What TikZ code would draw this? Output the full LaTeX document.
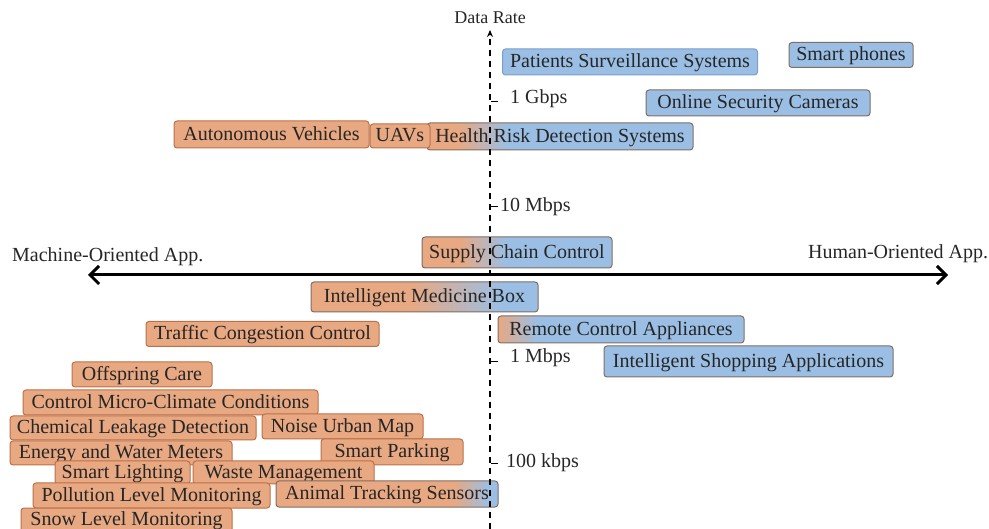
\documentclass[tikz,border=0pt]{standalone}
\usepackage{fontspec}
\setmainfont{Liberation Serif}
\usetikzlibrary{arrows.meta}
\definecolor{orfill}{RGB}{232,168,130}
\definecolor{blfill}{RGB}{155,191,228}
\definecolor{ordraw}{RGB}{186,112,72}
\definecolor{bldraw}{RGB}{128,110,100}
\definecolor{bllight}{RGB}{120,158,205}
\pgfdeclarehorizontalshading{shHealth}{100bp}{color(0bp)=(orfill); color(31bp)=(orfill); color(40bp)=(blfill); color(100bp)=(blfill)}
\pgfdeclarehorizontalshading{shSupply}{100bp}{color(0bp)=(orfill); color(35bp)=(orfill); color(47bp)=(blfill); color(100bp)=(blfill)}
\pgfdeclarehorizontalshading{shMedicine}{100bp}{color(0bp)=(orfill); color(47bp)=(orfill); color(67bp)=(blfill); color(100bp)=(blfill)}
\pgfdeclarehorizontalshading{shRemote}{100bp}{color(0bp)=(orfill); color(25bp)=(orfill); color(33bp)=(blfill); color(100bp)=(blfill)}
\pgfdeclarehorizontalshading{shAnimal}{100bp}{color(0bp)=(orfill); color(65bp)=(orfill); color(73bp)=(blfill); color(100bp)=(blfill)}
\tikzset{
  appbox/.style={rounded corners=3pt, line width=1pt, inner sep=0pt,
    text height=15pt, text depth=3.5pt,
    font=\fontsize{20}{22}\selectfont, text=black!85},
  obox/.style={appbox, draw=ordraw, fill=orfill},
  bbox/.style={appbox, draw=bldraw, fill=blfill},
  gbox/.style={appbox, draw=bldraw},
  lbl/.style={font=\fontsize{20}{22}\selectfont, inner sep=0pt, text=black!85},
  tickmark/.style={line width=1pt}
}
\begin{document}
\begin{tikzpicture}[x=1pt,y=-1pt]
\useasboundingbox (0,0) rectangle (989,529);
% human-oriented (blue)
\node[bbox, draw=bllight, minimum width=255, minimum height=26] (pss) at (630,62) {Patients Surveillance Systems};
\node[bbox, minimum width=124, minimum height=25] (sp) at (851,55) {Smart phones};
\node[bbox, minimum width=224, minimum height=26] (osc) at (758,103) {Online Security Cameras};
\node[bbox, minimum width=289, minimum height=31] (isa) at (748.5,361.5) {Intelligent Shopping Applications};
% mixed
\node[gbox, shading=shHealth, minimum width=266, minimum height=27] (hrd) at (560,136.5) {Health Risk Detection Systems};
\node[obox, minimum width=195, minimum height=27] (av) at (271.5,134.5) {Autonomous Vehicles};
\node[obox, minimum width=60, minimum height=24] (uav) at (400,136) {UAVs};
\node[gbox, shading=shSupply, minimum width=190, minimum height=31] (scc) at (517,252.5) {Supply Chain Control};
\node[gbox, shading=shMedicine, minimum width=227, minimum height=30] (imb) at (424.5,297) {Intelligent Medicine Box};
\node[gbox, shading=shRemote, minimum width=246, minimum height=27] (rca) at (621,329.5) {Remote Control Appliances};
% machine-oriented (orange)
\node[obox, minimum width=233, minimum height=25] (tcc) at (262.5,334) {Traffic Congestion Control};
\node[obox, minimum width=140, minimum height=25] (oc) at (142,374.5) {Offspring Care};
\node[obox, minimum width=295, minimum height=25] (cmc) at (170.5,402.5) {Control Micro-Climate Conditions};
\node[obox, minimum width=246, minimum height=24] (cld) at (133,428) {Chemical Leakage Detection};
\node[obox, minimum width=161, minimum height=25] (num) at (342.5,426.5) {Noise Urban Map};
\node[obox, minimum width=222, minimum height=24] (ewm) at (121,453) {Energy and Water Meters};
\node[obox, minimum width=142, minimum height=26] (spk) at (392,452) {Smart Parking};
\node[obox, minimum width=135, minimum height=23] (sl) at (122.5,472.5) {Smart Lighting};
\node[obox, minimum width=181, minimum height=23] (wm) at (283.5,472.5) {Waste Management};
\node[obox, minimum width=237, minimum height=25] (plm) at (151.5,495.5) {Pollution Level Monitoring};
\node[gbox, shading=shAnimal, minimum width=222, minimum height=26] (ats) at (387,494) {Animal Tracking Sensors};
\node[obox, minimum width=211, minimum height=24] (slm) at (126.5,520) {Snow Level Monitoring};
% axes
\coordinate (vbot) at (490,529);
\coordinate (vtop) at (490,30);
\draw[line width=1.5pt, dash pattern=on 6pt off 5pt, -{Stealth[length=7pt,width=6pt]}] (vbot) -- (vtop);
\node[lbl, font=\fontsize{18}{20}\selectfont] (dr) at (490,18) {Data Rate};
\coordinate (hl) at (88,275);
\coordinate (hr) at (948,275);
\draw[line width=3pt, {Straight Barb[length=9pt,width=18pt,line width=3pt]}-{Straight Barb[length=9pt,width=18pt,line width=3pt]}] (hl) -- (hr);
\node[lbl, anchor=west] (moa) at (12,257) {Machine-Oriented App.};
\node[lbl, anchor=west] (hoa) at (808,254) {Human-Oriented App.};
% ticks
\coordinate (t1a) at (491,102); \coordinate (t1b) at (498,102);
\coordinate (t2a) at (491,207); \coordinate (t2b) at (498,207);
\coordinate (t3a) at (491,362); \coordinate (t3b) at (498,362);
\coordinate (t4a) at (491,464); \coordinate (t4b) at (498,464);
\draw[tickmark] (t1a) -- (t1b);
\draw[tickmark] (t2a) -- (t2b);
\draw[tickmark] (t3a) -- (t3b);
\draw[tickmark] (t4a) -- (t4b);
\node[lbl, anchor=west] (g1) at (510,99) {1 Gbps};
\node[lbl, anchor=west] (m10) at (500,207) {10 Mbps};
\node[lbl, anchor=west] (m1) at (510,358) {1 Mbps};
\node[lbl, anchor=west] (k100) at (506,463) {100 kbps};
\end{tikzpicture}
\end{document}
